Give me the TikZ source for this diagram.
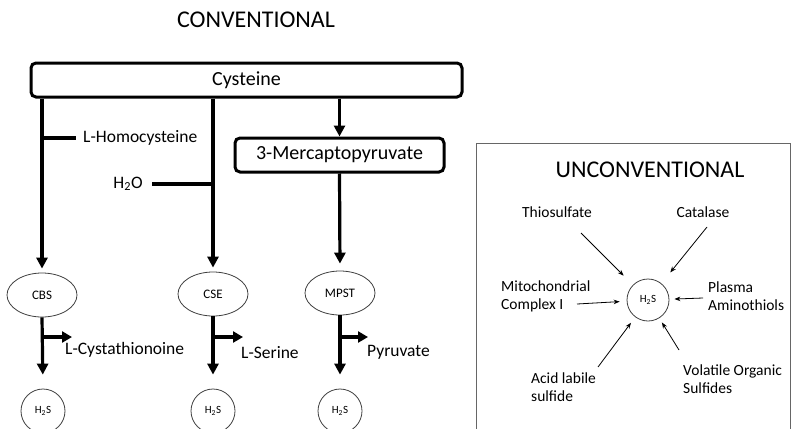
\documentclass[tikz,border=0pt]{standalone}
\usepackage{fontspec}
\setmainfont{Carlito}
\usetikzlibrary{arrows.meta,shapes.geometric,calc}
\tikzset{
  bigbox/.style={draw, line width=3pt, rounded corners=5pt, inner sep=0pt, font=\fontsize{20}{24}\selectfont},
  enz/.style={ellipse, draw=black!75, line width=0.8pt, minimum width=70pt, minimum height=44pt, inner sep=0pt, font=\fontsize{13}{15}\selectfont},
  hs/.style={circle, draw=black!75, line width=0.8pt, minimum size=44pt, inner sep=0pt, font=\fontsize{11}{13}\selectfont},
  fat/.style={line width=3.2pt, -{Triangle[width=11pt,length=11pt]}},
  fatbr/.style={line width=3.2pt, -{Triangle[width=11pt,length=10pt]}},
  fatline/.style={line width=3.2pt},
  lbl/.style={font=\fontsize{17.5}{21}\selectfont, inner sep=0pt},
  rl/.style={font=\fontsize{15.5}{18}\selectfont, align=left, inner sep=0pt},
  title/.style={font=\fontsize{24}{28}\selectfont, inner sep=0pt},
  tarr/.style={line width=0.8pt, -{Stealth[length=6pt,width=4.5pt]}}
}
\begin{document}
\begin{tikzpicture}[x=1pt,y=-1pt]
\clip (0,0) rectangle (791,428);
\fill[white] (0,0) rectangle (791,428);

% ---------- Conventional ----------
\node[title] (conv) at (256,20) {CONVENTIONAL};
\node[bigbox, minimum width=431pt, minimum height=34pt] (cys) at (246.5,80) {Cysteine};
\node[bigbox, minimum width=209pt, minimum height=34pt] (mp) at (339.5,155) {3-Mercaptopyruvate};

\node[enz] (cbs) at (42,295) {CBS};
\node[enz] (cse) at (213,294) {CSE};
\node[enz] (mpst) at (340,293) {MPST};

\node[hs] (h1) at (43,411) {H\textsubscript{2}S};
\node[hs] (h2) at (213,411) {H\textsubscript{2}S};
\node[hs] (h3) at (340,411) {H\textsubscript{2}S};

% side inputs
\node[lbl, anchor=west] (hcy) at (83,138) {L-Homocysteine};
\node[lbl] (water) at (128,184) {H\textsubscript{2}O};
\coordinate (j1) at (cys.south -| cbs.north);
\coordinate (j2) at (cys.south -| cse.north);
\coordinate (j3) at (cys.south -| mp.north);
\coordinate (hj) at (hcy.west -| cbs.north);
\coordinate (wj) at (water.east -| cse.north);

\draw[fat, shorten >=4pt] (j1) -- (cbs.north);
\draw[fat, shorten >=4pt] (j2) -- (cse.north);
\draw[fat] (j3) -- (mp.north);
\draw[fat, shorten >=7pt] (mp.south) -- (mpst.north);
\draw[fatline] (hj) -- ($(hcy.west)+(-7,0)$);
\draw[fatline] (wj) -- ($(water.east)+(9,0)$);

% products
\draw[fat, shorten >=14pt] (cbs.south) -- (h1.north);
\draw[fat, shorten >=14pt] (cse.south) -- (h2.north);
\draw[fat, shorten >=14pt] (mpst.south) -- (h3.north);

\coordinate (b1) at (42,337);
\coordinate (b2) at (213,337);
\coordinate (b3) at (340,337);
\coordinate (e1) at (72,337);
\coordinate (e2) at (243,337);
\coordinate (e3) at (368,337);
\draw[fatbr] (b1) -- (e1);
\draw[fatbr] (b2) -- (e2);
\draw[fatbr] (b3) -- (e3);
\node[lbl, anchor=west] (p1) at (65,350) {L-Cystathionoine};
\node[lbl, anchor=west] (p2) at (241,353) {L-Serine};
\node[lbl, anchor=west] (p3) at (367,352) {Pyruvate};

% ---------- Unconventional ----------
\draw[draw=black!60, line width=0.9pt] (476,143) rectangle (790,460);
\node[title] (unconv) at (650,170) {UNCONVENTIONAL};
\node[hs, minimum size=42pt] (hc) at (648,300) {H\textsubscript{2}S};

\node[rl] (thio) at (557,212) {Thiosulfate};
\node[rl] (cat) at (703,212) {Catalase};
\node[rl, anchor=west] (mito) at (501,296) {Mitochondrial\\Complex I};
\node[rl, anchor=west] (plas) at (708,296) {Plasma\\Aminothiols};
\node[rl, anchor=west] (acid) at (531,387) {Acid labile\\sulfide};
\node[rl, anchor=west] (vol) at (683,379) {Volatile Organic\\Sulfides};

\coordinate (s1) at (581,233);
\coordinate (s2) at (707,227);
\coordinate (s3) at (577,304);
\coordinate (s4) at (703,298);
\coordinate (s5) at (598,367);
\coordinate (s6) at (679,350);
\draw[tarr, shorten >=13pt] (s1) -- (hc);
\draw[tarr, shorten >=14pt] (s2) -- (hc);
\draw[tarr, shorten >=7pt] (s3) -- (hc);
\draw[tarr, shorten >=5pt] (s4) -- (hc);
\draw[tarr, shorten >=7pt] (s5) -- (hc);
\draw[tarr, shorten >=5pt] (s6) -- (hc);
\end{tikzpicture}
\end{document}
